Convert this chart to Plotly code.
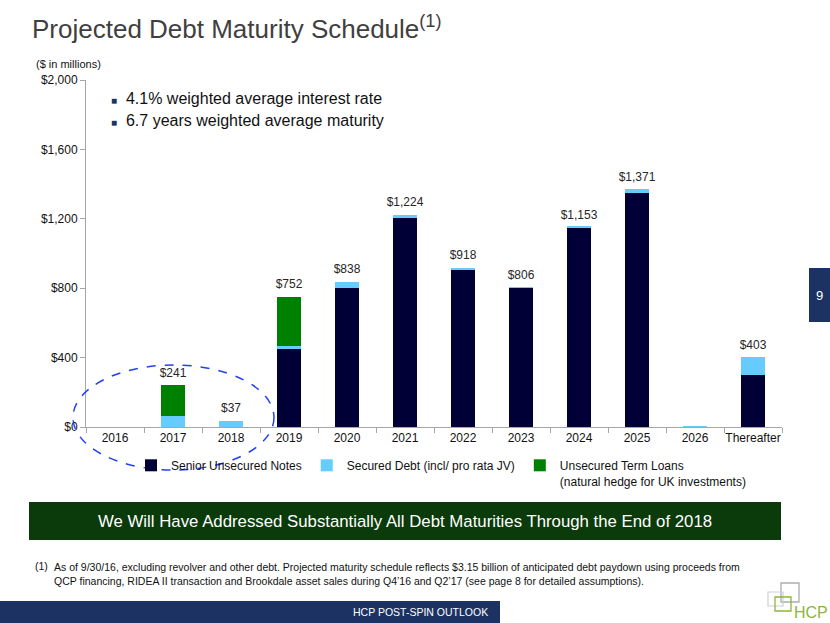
import plotly.graph_objects as go

# ---------------- data ----------------
categories = ["2016", "2017", "2018", "2019", "2020", "2021", "2022", "2023",
              "2024", "2025", "2026", "Thereafter"]
senior_notes = [0, 0, 0, 450, 803, 1203, 903, 802, 1150, 1349, 0, 301]
secured_debt = [0, 61, 37, 15, 35, 21, 15, 4, 3, 22, 5, 102]
term_loans = [0, 180, 0, 287, 0, 0, 0, 0, 0, 0, 0, 0]
total_labels = ["", "$241", "$37", "$752", "$838", "$1,224", "$918", "$806",
                "$1,153", "$1,371", "", "$403"]
totals = [a + b + c for a, b, c in zip(senior_notes, secured_debt, term_loans)]
y_ticks = [0, 400, 800, 1200, 1600, 2000]
y_tick_text = ["$0", "$400", "$800", "$1,200", "$1,600", "$2,000"]

W, H = 830, 623
L, R, T, B = 86, 782, 80, 427  # plot area in pixels


def px(x):
    return (x - L) / (R - L)


def py(y):
    return (B - y) / (B - T)


FONT = "Liberation Sans, Arial, sans-serif"

fig = go.Figure()
fig.add_trace(go.Bar(x=categories, y=senior_notes, name="Senior Unsecured Notes",
                     marker=dict(color="#000036", line=dict(width=0)), width=0.4))
fig.add_trace(go.Bar(x=categories, y=secured_debt, name="Secured Debt (incl/ pro rata JV)",
                     marker=dict(color="#66CCFF", line=dict(width=0)), width=0.4))
fig.add_trace(go.Bar(x=categories, y=term_loans,
                     name="Unsecured Term Loans<br>(natural hedge for UK investments)",
                     marker=dict(color="#008000", line=dict(width=0)), width=0.4))
# total labels above the bars (invisible marker pushes the text slightly up)
lab_x = [c for c, l in zip(categories, total_labels) if l]
lab_y = [t for t, l in zip(totals, total_labels) if l]
lab_t = [l for l in total_labels if l]
fig.add_trace(go.Scatter(x=lab_x, y=lab_y, mode="markers+text", text=lab_t,
                         textposition="top center", showlegend=False, hoverinfo="skip",
                         marker=dict(size=7, opacity=0),
                         textfont=dict(family=FONT, size=12, color="#262626")))

shapes = []
# dashed ellipse
shapes.append(dict(type="circle", xref="paper", yref="paper",
                   x0=px(73), x1=px(274), y0=py(470), y1=py(365),
                   line=dict(color="#2440F0", width=1.5, dash="dash")))
# green banner
shapes.append(dict(type="rect", xref="paper", yref="paper",
                   x0=px(29), x1=px(781), y0=py(540), y1=py(502),
                   fillcolor="#0B3A0B", line=dict(width=0), layer="above"))
# footer blue bar
shapes.append(dict(type="rect", xref="paper", yref="paper",
                   x0=px(0), x1=px(500), y0=py(623), y1=py(601),
                   fillcolor="#1B3263", line=dict(width=0)))
# page number box
shapes.append(dict(type="rect", xref="paper", yref="paper",
                   x0=px(809), x1=px(830), y0=py(322), y1=py(268),
                   fillcolor="#1B3263", line=dict(width=0)))
# logo squares
shapes.append(dict(type="rect", xref="paper", yref="paper",
                   x0=px(781), x1=px(799), y0=py(602), y1=py(583),
                   fillcolor="rgba(0,0,0,0)", line=dict(color="#A9ADB2", width=1.3)))
shapes.append(dict(type="rect", xref="paper", yref="paper",
                   x0=px(768), x1=px(783), y0=py(606), y1=py(592),
                   fillcolor="rgba(0,0,0,0)", line=dict(color="#CDD0D3", width=1.2)))
shapes.append(dict(type="rect", xref="paper", yref="paper",
                   x0=px(775), x1=px(791), y0=py(611), y1=py(597),
                   fillcolor="rgba(0,0,0,0)", line=dict(color="#8DB63C", width=1.3)))

annotations = []
annotations.append(dict(x=px(30), y=py(46), xref="paper", yref="paper",
                        text="Projected Debt Maturity Schedule<sup>(1)</sup>",
                        showarrow=False, xanchor="left", yanchor="bottom",
                        font=dict(family=FONT, size=26, color="#3F3F3F")))
annotations.append(dict(x=px(34), y=py(64), xref="paper", yref="paper",
                        text="($ in millions)", showarrow=False, xanchor="left",
                        yanchor="middle", font=dict(family=FONT, size=11, color="#111111")))
for yy, txt in [(98, "4.1% weighted average interest rate"),
                (120, "6.7 years weighted average maturity")]:
    annotations.append(dict(x=px(109), y=py(yy), xref="paper", yref="paper",
                            text="<span style='color:#1B3263;font-size:10px'>■</span>  " + txt,
                            showarrow=False, xanchor="left", yanchor="middle",
                            font=dict(family=FONT, size=16, color="#111111")))
annotations.append(dict(x=px(405), y=py(521), xref="paper", yref="paper",
                        text="We Will Have Addressed Substantially All Debt Maturities Through the End of 2018",
                        showarrow=False, xanchor="center", yanchor="middle",
                        font=dict(family=FONT, size=16.8, color="#FFFFFF")))
annotations.append(dict(x=px(33), y=py(566), xref="paper", yref="paper",
                        text="(1)", showarrow=False, xanchor="left", yanchor="middle",
                        font=dict(family=FONT, size=10.5, color="#111111")))
annotations.append(dict(x=px(52), y=py(573.5), xref="paper", yref="paper",
                        text="As of 9/30/16, excluding revolver and other debt. Projected maturity schedule reflects $3.15 billion of anticipated debt paydown using proceeds from<br>"
                             "QCP financing, RIDEA II transaction and Brookdale asset sales during Q4\u201916 and Q2\u201917 (see page 8 for detailed assumptions).",
                        showarrow=False, xanchor="left", yanchor="middle", align="left",
                        font=dict(family=FONT, size=10.5, color="#111111")))
annotations.append(dict(x=px(490), y=py(612), xref="paper", yref="paper",
                        text="HCP POST-SPIN OUTLOOK", showarrow=False, xanchor="right",
                        yanchor="middle", font=dict(family=FONT, size=10.5, color="#FFFFFF")))
annotations.append(dict(x=px(819.5), y=py(295), xref="paper", yref="paper",
                        text="9", showarrow=False, xanchor="center",
                        yanchor="middle", font=dict(family=FONT, size=13, color="#FFFFFF")))
annotations.append(dict(x=px(811), y=py(612), xref="paper", yref="paper",
                        text="HCP", showarrow=False, xanchor="center",
                        yanchor="middle", font=dict(family=FONT, size=16, color="#8DB63C")))

fig.update_layout(
    width=W, height=H,
    margin=dict(l=L, r=W - R, t=T, b=H - B, pad=0, autoexpand=False),
    paper_bgcolor="white", plot_bgcolor="white",
    barmode="stack", bargap=0.6,
    font=dict(family=FONT, size=12, color="#111111"),
    showlegend=True,
    legend=dict(orientation="h", xref="container", yref="container",
                x=131 / W, y=1 - 451 / H, xanchor="left", yanchor="top",
                font=dict(family=FONT, size=12, color="#111111"),
                traceorder="normal", valign="top", itemwidth=30,
                bgcolor="rgba(0,0,0,0)"),
    xaxis=dict(type="category", showline=True, linecolor="#A6A6A6", linewidth=1,
               ticks="outside", tickson="boundaries", ticklen=5, tickcolor="#A6A6A6",
               tickangle=0, automargin=False, range=[-0.5, 11.5],
               tickfont=dict(family=FONT, size=12, color="#111111"), showgrid=False,
               fixedrange=True),
    yaxis=dict(range=[0, 2000], tickvals=y_ticks, ticktext=y_tick_text, showline=True,
               linecolor="#A6A6A6", linewidth=1, ticks="outside", ticklen=5,
               tickcolor="#A6A6A6", showgrid=False, zeroline=False, automargin=False,
               tickfont=dict(family=FONT, size=12, color="#111111")),
    shapes=shapes, annotations=annotations,
)

fig.write_html("out.html", post_script="document.body.style.margin='0';",
               config={"displayModeBar": False})
